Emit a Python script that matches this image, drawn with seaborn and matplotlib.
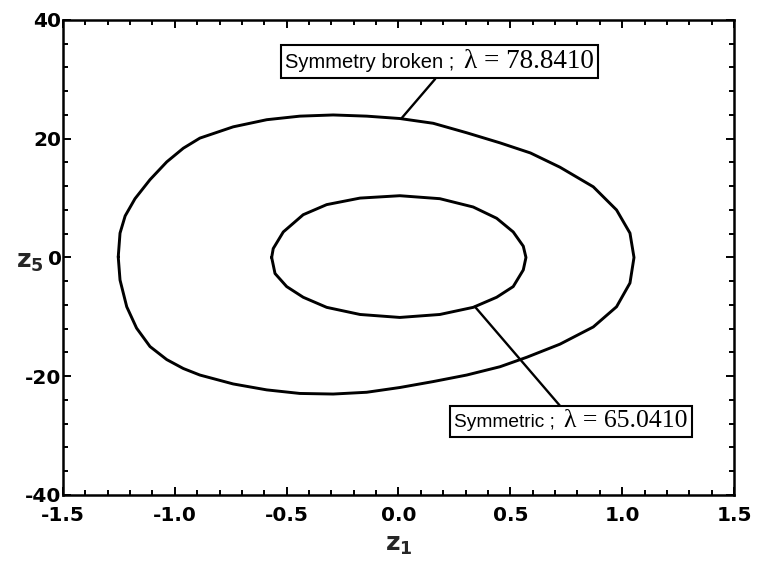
import matplotlib
matplotlib.use("Agg")
import numpy as np
import pandas as pd
import matplotlib.pyplot as plt
import seaborn as sns
from matplotlib.ticker import MultipleLocator, FormatStrFormatter
from matplotlib.offsetbox import TextArea, HPacker, AnnotationBbox
from matplotlib import font_manager

# ---- data ----
outer_z1 = [-1.253, -1.245, -1.222, -1.178, -1.111, -1.036, -0.962, -0.888, -0.739, -0.589,
            -0.441, -0.292, -0.142, 0.006, 0.155, 0.305, 0.454, 0.590, 0.722, 0.871,
            0.975, 1.035, 1.053, 1.035, 0.975, 0.871, 0.722, 0.574, 0.454, 0.305,
            0.155, 0.006, -0.142, -0.292, -0.441, -0.589, -0.739, -0.888, -0.962, -1.036,
            -1.111, -1.171, -1.215, -1.245]
outer_z5 = [0.1, 4.1, 7.0, 9.9, 13.1, 16.1, 18.4, 20.1, 22.0, 23.2,
            23.8, 24.0, 23.8, 23.4, 22.6, 21.0, 19.3, 17.6, 15.2, 11.9,
            8.0, 4.1, 0.0, -4.3, -8.3, -11.7, -14.6, -16.8, -18.4, -19.8,
            -20.9, -21.9, -22.7, -23.0, -22.9, -22.3, -21.3, -19.8, -18.7, -17.2,
            -15.0, -11.9, -8.3, -3.8]

inner_z1 = [-0.567, -0.560, -0.515, -0.426, -0.321, -0.172, 0.006, 0.185, 0.334, 0.439,
            0.513, 0.558, 0.570, 0.558, 0.513, 0.439, 0.334, 0.185, 0.006, -0.172,
            -0.321, -0.426, -0.500, -0.552]
inner_z5 = [0.0, 1.5, 4.3, 7.2, 8.9, 10.0, 10.4, 9.9, 8.5, 6.6,
            4.3, 1.9, 0.0, -2.1, -4.9, -6.7, -8.4, -9.6, -10.1, -9.6,
            -8.4, -6.7, -4.9, -2.7]

x_ticks = [-1.5, -1.0, -0.5, 0.0, 0.5, 1.0, 1.5]
y_ticks = [-40, -20, 0, 20, 40]

outer_label = "Symmetry broken ;"
outer_lambda = "\u03bb = 78.8410"
inner_label = "Symmetric ;"
inner_lambda = "\u03bb = 65.0410"

# annotation anchor points (on the curves) and label centres, data units
outer_anchor = (0.015, 23.5)
outer_text_pos = (0.183, 33.0)
inner_anchor = (0.342, -8.3)
inner_text_pos = (0.771, -27.6)

# ---- style ----
sns.set_style("ticks")
plt.rcParams["font.family"] = ["Liberation Sans", "DejaVu Sans"]
plt.rcParams["axes.unicode_minus"] = False
plt.rcParams["mathtext.fontset"] = "custom"
plt.rcParams["mathtext.rm"] = "DejaVu Sans:bold"
plt.rcParams["mathtext.bf"] = "DejaVu Sans:bold"

installed = {f.name for f in font_manager.fontManager.ttflist}
if "Liberation Sans Narrow" in installed:
    sans_family = "Liberation Sans Narrow"
    outer_sans_size, inner_sans_size = 17.0, 16.0
else:
    sans_family = "Liberation Sans"
    outer_sans_size, inner_sans_size = 14.5, 13.8

fig = plt.figure(figsize=(7.58, 5.70), dpi=100)
ax = fig.add_axes([0.0831, 0.1316, 0.8852, 0.8334])

def closed(xs, ys, name):
    x = list(xs) + [xs[0]]
    y = list(ys) + [ys[0]]
    return pd.DataFrame({"z1": x, "z5": y, "curve": name})

df_outer = closed(outer_z1, outer_z5, "outer")
df_inner = closed(inner_z1, inner_z5, "inner")

for df in (df_outer, df_inner):
    sns.lineplot(data=df, x="z1", y="z5", sort=False, estimator=None,
                 color="black", linewidth=2.1, ax=ax,
                 solid_joinstyle="round", solid_capstyle="round")

ax.set_xlim(-1.5, 1.5)
ax.set_ylim(-40, 40)
ax.set_xticks(x_ticks)
ax.set_yticks(y_ticks)
ax.xaxis.set_minor_locator(MultipleLocator(0.1))
ax.yaxis.set_minor_locator(MultipleLocator(4))
ax.xaxis.set_major_formatter(FormatStrFormatter("%.1f"))
ax.yaxis.set_major_formatter(FormatStrFormatter("%d"))

ax.tick_params(which="both", direction="in", top=True, right=True,
               width=1.4, color="black")
ax.tick_params(which="major", length=6)
ax.tick_params(which="minor", length=3.5)
ax.tick_params(axis="x", which="major", pad=8)
ax.tick_params(axis="y", which="major", pad=1)
for lab in ax.get_xticklabels() + ax.get_yticklabels():
    lab.set_fontfamily("DejaVu Sans")
    lab.set_fontweight("bold")
    lab.set_fontsize(14.5)
    lab.set_color("black")

for sp in ax.spines.values():
    sp.set_linewidth(1.8)
    sp.set_color("black")

ax.set_xlabel(r"$\mathbf{z_1}$", fontsize=18, labelpad=6)
ax.set_ylabel(r"$\mathbf{z_5}$", fontsize=18, rotation=0, va="center")
ax.yaxis.set_label_coords(-0.05, 0.49)


def label_box(text_sans, text_serif, sans_size, serif_size, anchor, pos, pad, relpos):
    t1 = TextArea(text_sans, textprops=dict(family=sans_family,
                                            fontsize=sans_size, color="black"))
    t2 = TextArea(text_serif, textprops=dict(family="Liberation Serif",
                                             fontsize=serif_size, color="black"))
    pack = HPacker(children=[t1, t2], align="baseline", pad=0, sep=7)
    ab = AnnotationBbox(pack, anchor, xybox=pos, xycoords="data", boxcoords="data",
                        box_alignment=(0.5, 0.5), pad=pad, frameon=True,
                        bboxprops=dict(boxstyle="square", fc="white", ec="black", lw=1.5),
                        arrowprops=dict(arrowstyle="-", color="black", lw=1.7,
                                        relpos=relpos, shrinkA=0, shrinkB=0))
    ax.add_artist(ab)


label_box(outer_label, outer_lambda, outer_sans_size, 19.5, outer_anchor, outer_text_pos,
          0.08, (0.5, 0.0))
label_box(inner_label, inner_lambda, inner_sans_size, 18.5, inner_anchor, inner_text_pos,
          0.25, (0.47, 1.0))

fig.savefig("out.png", dpi=100, facecolor="white")
